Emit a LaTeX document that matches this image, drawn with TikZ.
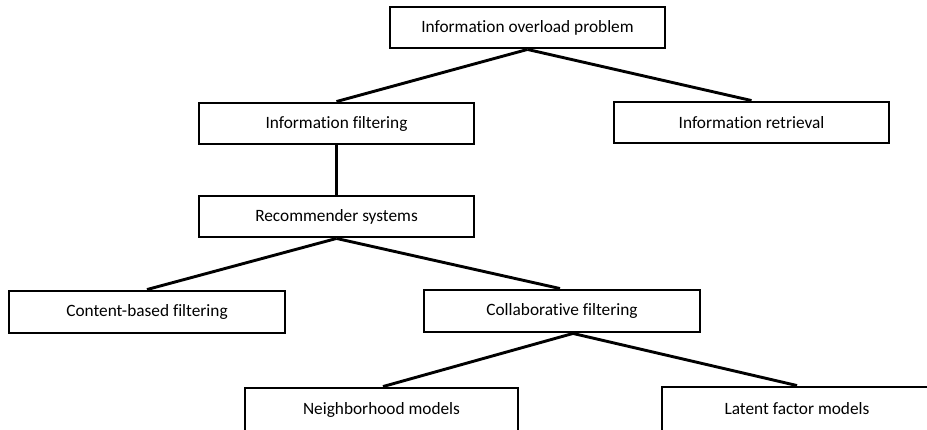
\documentclass[tikz,border=0pt]{standalone}
\usepackage{fontspec}
\setmainfont{Carlito}[Ligatures={NoCommon}]
\begin{document}
\begin{tikzpicture}[x=1pt,y=-1pt,
  lbl/.style={font=\fontsize{17.3}{20}\selectfont},
  box/.style={draw=black, line width=2.9pt, fill=white, inner sep=0pt,
    minimum width=275pt, minimum height=41pt, lbl},
  link/.style={draw=black, line width=2.9pt}]
  \useasboundingbox (0,0) rectangle (927,430);
  \clip (0,0) rectangle (927,430);
  % tree levels
  \node[box] (overload) at (527.5,27.5) {Information overload problem};
  \node[box] (filtering) at (336.5,123.5) {Information filtering};
  \node[box] (retrieval) at (751.5,122.5) {Information retrieval};
  \node[box] (recsys) at (336.5,216.5) {Recommender systems};
  \node[box, minimum width=276pt, minimum height=42pt] (content) at (147,312) {Content-based filtering};
  \node[box, minimum width=276pt, minimum height=42pt] (collab) at (562,311) {Collaborative filtering};
  % bottom row runs past the lower edge
  \node[box, minimum width=273pt, minimum height=44pt] (neighbor) at (381.5,410) {};
  \node[lbl] (neighbortext) at (381.5,410) {Neighborhood models};
  \node[box, minimum width=275pt, minimum height=44pt] (latent) at (799.5,409) {};
  \node[lbl] (latenttext) at (797,409) {Latent factor models};
  % connectors
  \draw[link] (overload.south) -- (filtering.north);
  \draw[link] (overload.south) -- (retrieval.north);
  \draw[link] (filtering.south) -- (recsys.north);
  \draw[link] (recsys.south) -- (content.north);
  \draw[link] (recsys.south) -- ([xshift=-2pt]collab.north);
  \coordinate (collabjoin) at ([xshift=11pt]collab.south);
  \draw[link] (collabjoin) -- ([xshift=1.5pt]neighbor.north);
  \draw[link] (collabjoin) -- ([xshift=-2.5pt]latent.north);
\end{tikzpicture}
\end{document}
